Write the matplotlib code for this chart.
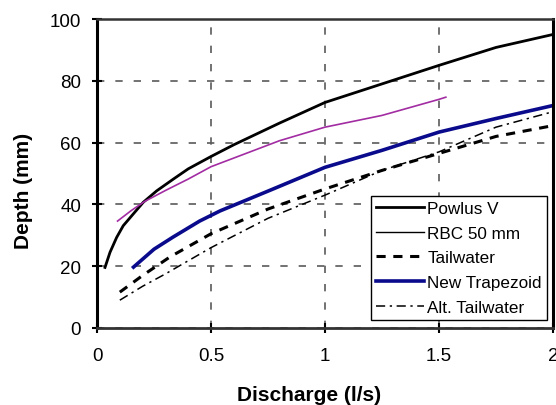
import matplotlib.pyplot as plt
from matplotlib.lines import Line2D

plt.rcParams['font.family'] = ['Liberation Sans', 'DejaVu Sans']

# ---- data ----
powlus_x = [0.035, 0.057, 0.086, 0.115, 0.152, 0.203, 0.262, 0.335, 0.4, 0.5, 0.6, 0.8, 1.0, 1.25, 1.5, 1.75, 2.0]
powlus_y = [19.6, 24.5, 29.3, 33.1, 36.3, 40.7, 44.4, 48.2, 51.5, 55.5, 59.3, 66.3, 73.0, 79.0, 85.0, 90.8, 95.0]

rbc_x = [0.09, 0.15, 0.21, 0.3, 0.4, 0.5, 0.6, 0.8, 1.0, 1.25, 1.5, 1.53]
rbc_y = [34.6, 38.0, 41.0, 44.5, 48.2, 52.2, 55.0, 60.6, 65.0, 68.8, 74.0, 74.7]

tail_x = [0.1, 0.2, 0.32, 0.5, 0.75, 1.0, 1.25, 1.5, 1.75, 2.0]
tail_y = [11.6, 17.0, 23.0, 30.5, 38.5, 45.0, 51.0, 56.5, 62.0, 65.5]

trap_x = [0.16, 0.25, 0.333, 0.45, 0.54, 0.75, 1.0, 1.25, 1.5, 1.75, 2.0]
trap_y = [19.7, 25.5, 29.4, 34.6, 37.9, 44.3, 52.0, 57.5, 63.4, 67.8, 72.0]

alt_x = [0.1, 0.2, 0.3, 0.5, 0.75, 1.0, 1.25, 1.5, 1.75, 2.0]
alt_y = [9.0, 13.5, 17.5, 26.0, 35.5, 43.0, 51.0, 57.0, 65.0, 70.0]

xticks = [0, 0.5, 1, 1.5, 2]
xtick_labels = ['0', '0.5', '1', '1.5', '2']
yticks = [0, 20, 40, 60, 80, 100]

fig = plt.figure(figsize=(5.56, 4.06), dpi=100)
ax = fig.add_axes([0.1745, 0.1897, 0.8201, 0.761])

ax.plot(powlus_x, powlus_y, color='black', lw=2.0)
ax.plot(rbc_x, rbc_y, color='#a22ca2', lw=1.2)
ax.plot(tail_x, tail_y, color='black', lw=2.2, dashes=(3, 2.5))
ax.plot(trap_x, trap_y, color='#0a0a8c', lw=2.6)
ax.plot(alt_x, alt_y, color='black', lw=1.1, dashes=(6, 3, 1.5, 3))

ax.set_xlim(0, 2)
ax.set_ylim(0, 100)
ax.set_xticks(xticks)
ax.set_xticklabels(xtick_labels)
ax.set_yticks(yticks)

ax.grid(True, color='#5a5a5a', linestyle=(0, (4.4, 6.6)), lw=1.2)
ax.tick_params(direction='inout', length=7, width=1.5, labelsize=13.5,
               colors='black')
ax.tick_params(axis='x', pad=10)
ax.tick_params(axis='y', pad=8)

for side in ['left', 'right']:
    ax.spines[side].set_linewidth(2.2)
    ax.spines[side].set_color('black')
ax.spines['bottom'].set_linewidth(2.0)
ax.spines['bottom'].set_color('#333333')
ax.spines['top'].set_linewidth(1.8)
ax.spines['top'].set_color('#333333')

ax.set_xlabel('Discharge (l/s)', fontsize=15, fontweight='bold')
ax.xaxis.set_label_coords(0.464, -0.183)
ax.set_ylabel('Depth (mm)', fontsize=15, fontweight='bold')
ax.yaxis.set_label_coords(-0.14, 0.447)

handles = [
    Line2D([], [], color='black', lw=2.0),
    Line2D([], [], color='black', lw=1.0),
    Line2D([], [], color='black', lw=2.2, dashes=(3, 2.5)),
    Line2D([], [], color='#0a0a8c', lw=2.6),
    Line2D([], [], color='black', lw=1.1, dashes=(6, 3, 1.5, 3)),
]
labels = ['Powlus V', 'RBC 50 mm', 'Tailwater', 'New Trapezoid', 'Alt. Tailwater']
leg = ax.legend(handles, labels, loc='lower right', bbox_to_anchor=(0.987, 0.026),
                borderaxespad=0, fontsize=12.3, frameon=True, fancybox=False,
                edgecolor='black', handlelength=2.8, handletextpad=0.22,
                labelspacing=0.57, borderpad=0.3)
leg.get_frame().set_linewidth(1.0)
leg.get_frame().set_alpha(1)

fig.savefig('out.png', dpi=100)
